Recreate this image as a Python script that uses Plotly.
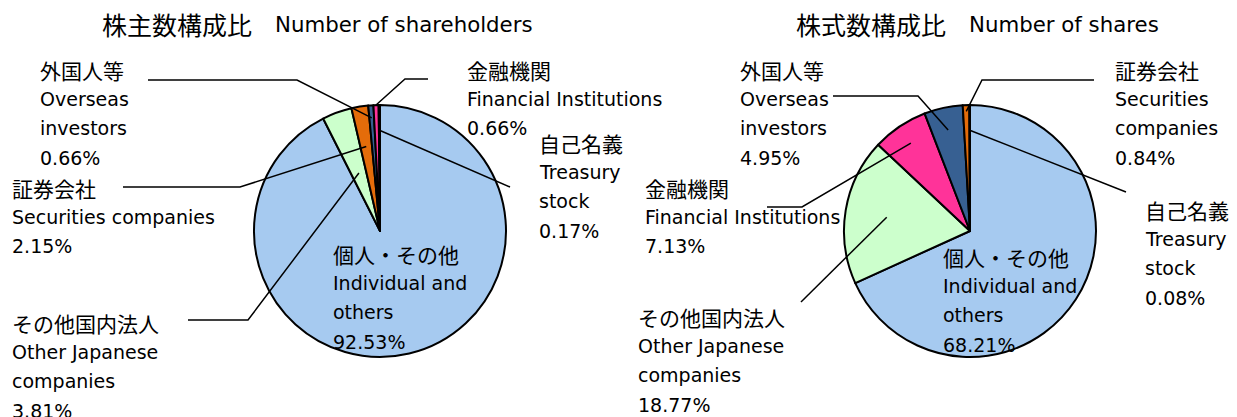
import math
import plotly.graph_objects as go

W, H = 1237, 417

# ---------------- data ----------------
categories_jp = ["個人・その他", "その他国内法人", "証券会社", "外国人等", "金融機関", "自己名義"]
categories_en = [["Individual and", "others"], ["Other Japanese", "companies"],
                 ["Securities companies"], ["Overseas", "investors"],
                 ["Financial Institutions"], ["Treasury", "stock"]]
categories_en_right = [["Individual and", "others"], ["Other Japanese", "companies"],
                       ["Securities", "companies"], ["Overseas", "investors"],
                       ["Financial Institutions"], ["Treasury", "stock"]]
shareholders_pct = [92.53, 3.81, 2.15, 0.66, 0.66, 0.17]   # per category above
shares_pct = [68.21, 18.77, 0.84, 4.95, 7.13, 0.08]        # per category above

# order of slices (clockwise from 12 o'clock)
order_left = [0, 1, 2, 3, 4, 5]
order_right = [0, 1, 4, 3, 2, 5]

title_left_jp, title_left_en = "株主数構成比", "Number of shareholders"
title_right_jp, title_right_en = "株式数構成比", "Number of shares"

colors = ["#A6CAF0", "#CCFFCC", "#E46C0A", "#376092", "#FF3399", "#111111"]

JP_FONT = "Noto Sans CJK JP"
EN_FONT = "DejaVu Sans, Noto Sans CJK JP"

# ---------------- layout constants (pixels) ----------------
R = 126
left_center = (380, 231)
right_center = (970, 231)

left_labels = {0: (333, 254), 1: (12, 323), 2: (12, 188), 3: (40, 70), 4: (467, 70), 5: (539, 143)}
right_labels = {0: (943, 257), 1: (638, 317), 2: (1115, 70), 3: (740, 70), 4: (645, 188), 5: (1145, 210)}

left_leaders = {3: ([(148, 80), (297, 80)], 0.9), 4: ([(428, 79), (405, 79)], 1.0),
                5: ([(510, 187)], 0.8), 2: ([(123, 187), (240, 187)], 0.68),
                1: ([(188, 320), (248, 320)], 0.49)}
right_leaders = {3: ([(833, 96), (918, 96)], 0.82), 2: ([(1094, 80), (982, 80)], 0.95),
                 5: ([(1126, 192)], 0.8), 4: ([(767, 207), (802, 207)], 0.84),
                 1: ([(801, 302)], 0.67)}

LINE_STEP = 29.2


def px(x):
    return x / W


def py(y):
    return 1 - y / H


fig = go.Figure()
annotations = []
shapes = []


def text_ann(t, x, y, family, size, anchor="left"):
    annotations.append(dict(text=t, x=px(x), y=py(y), xref="paper", yref="paper",
                            xanchor=anchor, yanchor="middle", showarrow=False,
                            borderpad=0, borderwidth=0,
                            font=dict(family=family, size=size, color="black")))


def add_chart(values, order, center, labels, leaders, en_lines, title_jp, title_en, tx_jp, tx_en):
    cx, cy = center
    vals = [values[i] for i in order]
    fig.add_trace(go.Pie(
        values=vals,
        labels=[categories_jp[i] for i in order],
        marker=dict(colors=[colors[i] for i in order], line=dict(color="black", width=2)),
        sort=False, direction="clockwise", rotation=0,
        textinfo="none", hoverinfo="label+percent", showlegend=False,
        domain=dict(x=[px(cx - R), px(cx + R)], y=[py(cy + R), py(cy - R)]),
    ))
    total = sum(vals)
    cum = 0.0
    mid = {}
    for i, v in zip(order, vals):
        mid[i] = (cum + v / 2) / total * 2 * math.pi
        cum += v
    for i, (lx, ly) in labels.items():
        text_ann(categories_jp[i], lx, ly, JP_FONT, 21)
        lines = list(en_lines[i]) + [f"{values[i]:.2f}%"]
        for k, t in enumerate(lines):
            text_ann(t, lx, ly + (k + 1) * LINE_STEP, EN_FONT, 19)
    for i, (pts, frac) in leaders.items():
        a = mid[i]
        sx = cx + frac * R * math.sin(a)
        sy = cy - frac * R * math.cos(a)
        allp = list(pts) + [(sx, sy)]
        path = "M " + " L ".join(f"{px(x):.5f},{py(y):.5f}" for x, y in allp)
        shapes.append(dict(type="path", path=path, xref="paper", yref="paper",
                           line=dict(color="black", width=1.5), layer="above"))
    text_ann(title_jp, tx_jp, 24, JP_FONT, 25)
    text_ann(title_en, tx_en, 25, EN_FONT, 21.3)


add_chart(shareholders_pct, order_left, left_center, left_labels, left_leaders, categories_en,
          title_left_jp, title_left_en, 102, 275)
add_chart(shares_pct, order_right, right_center, right_labels, right_leaders, categories_en_right,
          title_right_jp, title_right_en, 796, 969)

fig.update_layout(width=W, height=H, margin=dict(l=0, r=0, t=0, b=0),
                  paper_bgcolor="white", plot_bgcolor="white",
                  annotations=annotations, shapes=shapes,
                  font=dict(family=EN_FONT))

fig.write_html("out.html", config={"displayModeBar": False},
               post_script="document.body.style.margin='0';")
